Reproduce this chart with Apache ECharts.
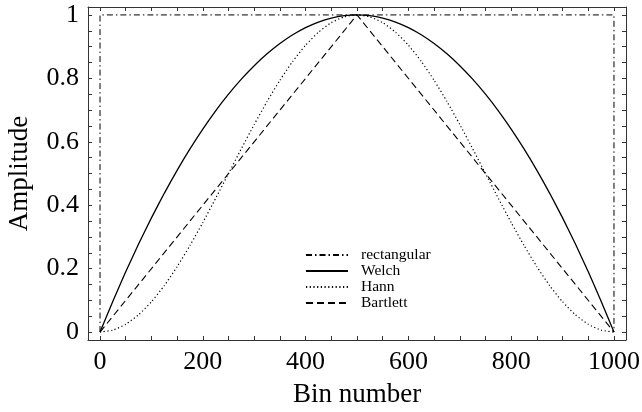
<!DOCTYPE html>
<html>
<head>
<meta charset="utf-8">
<script src="https://cdn.jsdelivr.net/npm/echarts@6/dist/echarts.min.js"></script>
<style>
  html, body { margin: 0; padding: 0; background: #fff; }
  #chart { width: 642px; height: 412px; }
</style>
</head>
<body>
<div id="chart"></div>
<script>
// Window functions over 1000 bins
const binNumbers = [0, 25, 50, 75, 100, 125, 150, 175, 200, 225, 250, 275, 300, 325, 350, 375, 400, 425, 450, 475,
  500, 525, 550, 575, 600, 625, 650, 675, 700, 725, 750, 775, 800, 825, 850, 875, 900, 925, 950, 975, 1000];

const welchValues = [0, 0.0975, 0.19, 0.2775, 0.36, 0.4375, 0.51, 0.5775, 0.64, 0.6975, 0.75, 0.7975, 0.84, 0.8775,
  0.91, 0.9375, 0.96, 0.9775, 0.99, 0.9975, 1, 0.9975, 0.99, 0.9775, 0.96, 0.9375, 0.91, 0.8775, 0.84, 0.7975,
  0.75, 0.6975, 0.64, 0.5775, 0.51, 0.4375, 0.36, 0.2775, 0.19, 0.0975, 0];

const hannValues = [0, 0.0062, 0.0245, 0.0545, 0.0955, 0.1464, 0.2061, 0.273, 0.3455, 0.4218, 0.5, 0.5782, 0.6545,
  0.727, 0.7939, 0.8536, 0.9045, 0.9455, 0.9755, 0.9938, 1, 0.9938, 0.9755, 0.9455, 0.9045, 0.8536, 0.7939, 0.727,
  0.6545, 0.5782, 0.5, 0.4218, 0.3455, 0.273, 0.2061, 0.1464, 0.0955, 0.0545, 0.0245, 0.0062, 0];

const bartlettBins = [0, 500, 1000];
const bartlettValues = [0, 1, 0];

const rectBins = [0, 0, 1000, 1000];
const rectValues = [0, 1, 1, 0];

// Axis ticks and labels
const xTickLabels = [0, 200, 400, 600, 800, 1000];
const xTicks = [0, 50, 100, 150, 200, 250, 300, 350, 400, 450, 500, 550, 600, 650, 700, 750, 800, 850, 900, 950, 1000];
const yTickLabels = [0, 0.2, 0.4, 0.6, 0.8, 1];
const yTicks = [0, 0.05, 0.1, 0.15, 0.2, 0.25, 0.3, 0.35, 0.4, 0.45, 0.5, 0.55, 0.6, 0.65, 0.7, 0.75, 0.8, 0.85, 0.9, 0.95, 1];

const pair = (xs, ys) => xs.map((x, i) => [x, ys[i]]);

const FONT = '"Liberation Serif", "DejaVu Serif", serif';
const frameColor = '#333';

const X_MIN = -23.4, X_MAX = 1023.4;
const Y_MIN = -0.025, Y_MAX = 1.025;

function frameAxis(extra) {
  return Object.assign({
    type: 'value',
    axisLine: { show: true, onZero: false, lineStyle: { color: frameColor, width: 1 } },
    splitLine: { show: false },
    axisTick: { show: true, inside: true, length: 4, lineStyle: { color: frameColor, width: 1 } },
    axisLabel: { show: false }
  }, extra);
}

const chart = echarts.init(document.getElementById('chart'), null, { renderer: 'canvas' });

chart.setOption({
  backgroundColor: '#fff',
  animation: false,
  grid: { left: 88, right: 16, top: 7, bottom: 72, containLabel: false, outerBoundsMode: 'none' },
  legend: {
    orient: 'vertical',
    left: 300,
    top: 242,
    itemWidth: 42,
    itemHeight: 10,
    itemGap: 0,
    itemStyle: { opacity: 0 },
    textStyle: { fontFamily: FONT, fontSize: 15.5, color: '#000', lineHeight: 15.5, padding: [0, 0, 0, 8] },
    data: ['rectangular', 'Welch', 'Hann', 'Bartlett']
  },
  xAxis: [
    frameAxis({
      position: 'bottom', min: X_MIN, max: X_MAX,
      name: 'Bin number', nameLocation: 'middle', nameGap: 41,
      nameTextStyle: { fontFamily: FONT, fontSize: 27, color: '#000' },
      axisTick: { show: true, inside: true, length: 4, customValues: xTicks, lineStyle: { color: frameColor, width: 1 } },
      axisLabel: { show: true, customValues: xTickLabels, margin: 9, fontFamily: FONT, fontSize: 26, color: '#000',
        formatter: v => String(v) }
    }),
    frameAxis({
      position: 'top', min: X_MIN, max: X_MAX,
      axisTick: { show: true, inside: true, length: 4, customValues: xTicks, lineStyle: { color: frameColor, width: 1 } }
    })
  ],
  yAxis: [
    frameAxis({
      position: 'left', min: Y_MIN, max: Y_MAX,
      name: 'Amplitude', nameLocation: 'middle', nameGap: 55,
      nameTextStyle: { fontFamily: FONT, fontSize: 27, color: '#000' },
      axisTick: { show: true, inside: true, length: 4, customValues: yTicks, lineStyle: { color: frameColor, width: 1 } },
      axisLabel: { show: true, customValues: yTickLabels, margin: 9, fontFamily: FONT, fontSize: 26, color: '#000',
        formatter: v => String(v) }
    }),
    frameAxis({
      position: 'right', min: Y_MIN, max: Y_MAX,
      axisTick: { show: true, inside: true, length: 4, customValues: yTicks, lineStyle: { color: frameColor, width: 1 } }
    })
  ],
  series: [
    {
      name: 'rectangular', type: 'line', showSymbol: false, symbol: 'none',
      data: pair(rectBins, rectValues),
      lineStyle: { color: '#000', width: 1, type: [6, 3, 1.5, 3] },
      itemStyle: { color: '#000' }
    },
    {
      name: 'Welch', type: 'line', showSymbol: false, symbol: 'none', smooth: 0.2,
      data: pair(binNumbers, welchValues),
      lineStyle: { color: '#000', width: 1.3, type: 'solid' },
      itemStyle: { color: '#000' }
    },
    {
      name: 'Hann', type: 'line', showSymbol: false, symbol: 'none', smooth: 0.2,
      data: pair(binNumbers, hannValues),
      lineStyle: { color: '#000', width: 1.2, type: [1.2, 2.5] },
      itemStyle: { color: '#000' }
    },
    {
      name: 'Bartlett', type: 'line', showSymbol: false, symbol: 'none',
      data: pair(bartlettBins, bartlettValues),
      lineStyle: { color: '#000', width: 1.1, type: [7, 4] },
      itemStyle: { color: '#000' }
    }
  ]
});
</script>
</body>
</html>
